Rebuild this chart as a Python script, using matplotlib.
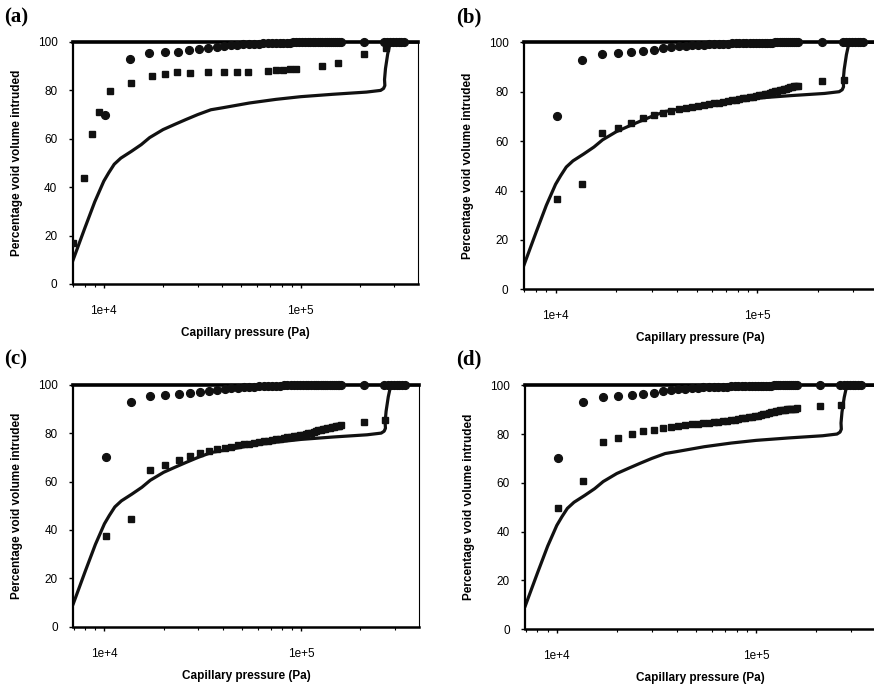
import matplotlib
matplotlib.use("Agg")
import matplotlib.pyplot as plt
from matplotlib.ticker import LogLocator, FixedLocator, FixedFormatter, NullFormatter

# давление для кругов (одинаково на всех панелях)
circle_p = [10200, 13600, 17000, 20400, 23800, 27200, 30600, 34000, 37400, 40800,
            44200, 47600, 51000, 54400, 57800, 61200, 64600, 68000, 71400, 74800,
            78200, 81600, 85000, 88400, 91800, 95200, 98600, 102000, 105400, 108800,
            112200, 115600, 119000, 122400, 125800, 129200, 132600, 136000, 139400, 142800,
            146200, 149600, 153000, 156400, 159800, 209000,
            265000, 275000, 285000, 295000, 305000, 315000, 325000, 335000]
circle_v = [70.0, 93.0, 95.3, 95.7, 96.0, 96.6, 97.0, 97.6, 98.0, 98.4,
            98.6, 98.8, 99.0, 99.1, 99.2, 99.3, 99.4, 99.5, 99.5, 99.6,
            99.6, 99.7, 99.7, 99.7, 99.8, 99.8, 99.8, 99.8, 99.9, 99.9,
            99.9, 99.9, 99.9, 100, 100, 100, 100, 100, 100, 100,
            100, 100, 100, 100, 100, 100,
            100, 100, 100, 100, 100, 100, 100, 100]

# сплошная кривая
curve_p = [6950, 8000, 9000, 10000, 10600, 11300, 12200, 13800, 15500, 17100, 20000,
           23000, 26200, 30000, 35000, 40000, 55000, 75000, 100000, 146000, 216000,
           255000, 264000, 268000, 267000, 270000, 277000, 283000, 290000, 395000]
curve_v = [9.5, 23, 34, 42.5, 46, 49.5, 52, 54.8, 57.6, 60.5, 63.8,
           66, 68, 70, 72, 72.8, 74.8, 76.3, 77.4, 78.4, 79.3,
           80.0, 80.8, 82.0, 84.5, 89, 95, 98.5, 100, 100]

# квадраты, панель (a)
sq_a_p = [6950, 7910, 8690, 9440, 10800, 13800, 17500, 20400, 23600, 27500,
          34000, 40600, 47600, 54000, 68500, 75200, 81300, 87900, 94300, 128000,
          155000, 209000, 273000]
sq_a_v = [17.1, 43.7, 62.0, 71.1, 79.9, 83.1, 85.8, 86.9, 87.7, 87.2,
          87.5, 87.6, 87.6, 87.7, 88.0, 88.3, 88.6, 88.7, 88.9, 90.1,
          91.2, 95.0, 97.4]

# квадраты, панели (b), (c), (d)
sq_p = circle_p[:46] + [268000]
sq_b_v = [36.4, 42.8, 63.3, 65.3, 67.5, 69.2, 70.4, 71.4, 72.2, 72.9,
          73.3, 73.8, 74.2, 74.6, 75.0, 75.3, 75.6, 75.9, 76.2, 76.5,
          76.8, 77.0, 77.3, 77.5, 77.8, 78.0, 78.2, 78.5, 78.7, 78.9,
          79.2, 79.5, 79.8, 80.1, 80.4, 80.6, 80.8, 81.0, 81.2, 81.5,
          81.8, 82.0, 82.2, 82.3, 82.4, 84.2, 84.9]
sq_c_v = [37.3, 44.5, 64.6, 66.7, 68.7, 70.5, 71.6, 72.5, 73.3, 74.0,
          74.4, 74.9, 75.3, 75.7, 76.0, 76.3, 76.6, 76.9, 77.2, 77.4,
          77.7, 77.9, 78.2, 78.4, 78.6, 78.9, 79.1, 79.4, 79.6, 79.9,
          80.2, 80.5, 80.8, 81.1, 81.4, 81.6, 81.8, 82.0, 82.2, 82.4,
          82.6, 82.8, 83.0, 83.1, 83.2, 84.7, 85.4]
sq_d_v = [49.8, 60.9, 76.6, 78.2, 80.0, 81.1, 81.8, 82.4, 82.9, 83.3,
          83.7, 84.0, 84.2, 84.4, 84.6, 84.8, 85.0, 85.2, 85.5, 85.7,
          85.9, 86.1, 86.4, 86.6, 86.8, 87.1, 87.3, 87.6, 87.8, 88.1,
          88.4, 88.6, 88.9, 89.1, 89.3, 89.5, 89.7, 89.9, 90.0, 90.1,
          90.2, 90.3, 90.4, 90.4, 90.5, 91.7, 91.9]

panels = ["(a)", "(b)", "(c)", "(d)"]
squares = [(sq_a_p, sq_a_v), (sq_p, sq_b_v), (sq_p, sq_c_v), (sq_p, sq_d_v)]

# положение осей в пикселях: left, top, width, height
W, H = 874, 689
boxes = [(72.7, 42.0, 345.3, 242.0),
         (523.7, 42.3, 353.8, 247.0),
         (73.3, 384.7, 345.3, 242.0),
         (525.3, 385.3, 349.6, 243.7)]
label_xy = [(4, 22), (456, 22), (4, 364), (456, 364)]

fig = plt.figure(figsize=(W / 100, H / 100), dpi=100)
plt.rcParams['font.family'] = ['Liberation Sans', 'DejaVu Sans']

for i in range(4):
    l, t, w, h = boxes[i]
    ax = fig.add_axes([l / W, 1 - (t + h) / H, w / W, h / H])
    ax.plot(curve_p, curve_v, color='#111111', lw=2.3, zorder=2)
    ax.plot(squares[i][0], squares[i][1], 's', color='#111111', ms=4.7, zorder=3)
    ax.plot(circle_p, circle_v, 'o', color='#111111', ms=5.6, zorder=3, clip_on=False)

    ax.set_xscale('log')
    ax.set_xlim(6950, 395000)
    ax.set_ylim(0, 100)
    ax.set_yticks([0, 20, 40, 60, 80, 100])
    ax.xaxis.set_major_locator(FixedLocator([1e4, 1e5]))
    ax.xaxis.set_major_formatter(FixedFormatter(['1e+4', '1e+5']))
    ax.xaxis.set_minor_locator(LogLocator(base=10, subs=range(2, 10)))
    ax.xaxis.set_minor_formatter(NullFormatter())
    ax.tick_params(axis='x', which='major', length=3, width=1, pad=12, labelsize=8.5)
    ax.tick_params(axis='x', which='minor', length=2, width=0.8)
    ax.tick_params(axis='y', length=3, width=1, pad=8, labelsize=8.5)

    ax.spines['left'].set_linewidth(1.6)
    ax.spines['bottom'].set_linewidth(1.8)
    ax.spines['top'].set_linewidth(2.6)
    ax.spines['right'].set_linewidth(0.8)

    ax.set_xlabel('Capillary pressure (Pa)', fontsize=8.5, fontweight='bold')
    ax.set_ylabel('Percentage void volume intruded', fontsize=8.5, fontweight='bold')
    ax.xaxis.set_label_coords(0.5, -43 / h)
    ax.yaxis.set_label_coords(-50 / w, 0.5)

    fig.text(label_xy[i][0] / W, 1 - label_xy[i][1] / H, panels[i],
             family='Liberation Serif', fontweight='bold', fontsize=15)

plt.savefig("out.png", dpi=100)
